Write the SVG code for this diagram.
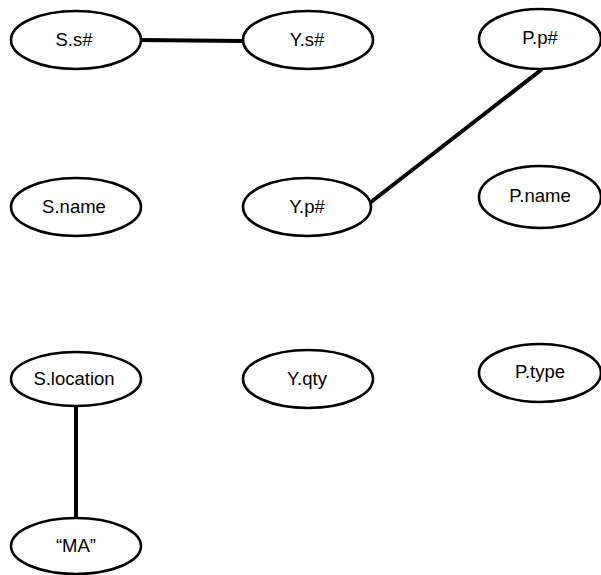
<svg xmlns="http://www.w3.org/2000/svg" width="601" height="575" viewBox="0 0 601 575">
<style>
.n ellipse{fill:#fff;stroke:#000;stroke-width:2.6}
.n text{font-family:"Liberation Sans",Arial,sans-serif;font-size:18.5px;fill:#000;text-anchor:middle}
#edges line{stroke:#000;stroke-width:4;stroke-linecap:round}
</style>
<rect width="601" height="575" fill="#fff"/>
<g id="edges">
<line x1="140" y1="40" x2="242" y2="41"/>
<line x1="541" y1="70" x2="371" y2="202"/>
<line x1="76" y1="406" x2="76" y2="518"/>
</g>
<g id="S_s" class="n"><ellipse cx="76" cy="40" rx="65" ry="29"/><text x="74" y="46">S.s#</text></g>
<g id="Y_s" class="n"><ellipse cx="308" cy="40" rx="65" ry="29"/><text x="307" y="46">Y.s#</text></g>
<g id="P_p" class="n"><ellipse cx="540" cy="39" rx="61" ry="30"/><text x="540" y="44">P.p#</text></g>
<g id="S_name" class="n"><ellipse cx="76" cy="207" rx="65" ry="29"/><text x="74" y="213">S.name</text></g>
<g id="Y_p" class="n"><ellipse cx="307" cy="207" rx="64" ry="29"/><text x="307" y="213">Y.p#</text></g>
<g id="P_name" class="n"><ellipse cx="540" cy="197" rx="61" ry="31"/><text x="540" y="202">P.name</text></g>
<g id="S_location" class="n"><ellipse cx="76" cy="379" rx="65" ry="27"/><text x="74" y="385">S.location</text></g>
<g id="Y_qty" class="n"><ellipse cx="308" cy="379" rx="65" ry="29"/><text x="307" y="385">Y.qty</text></g>
<g id="P_type" class="n"><ellipse cx="540" cy="373" rx="61" ry="29"/><text x="540" y="378">P.type</text></g>
<g id="MA" class="n"><ellipse cx="76" cy="546" rx="65" ry="28"/><text x="76" y="552">“MA”</text></g>
</svg>
